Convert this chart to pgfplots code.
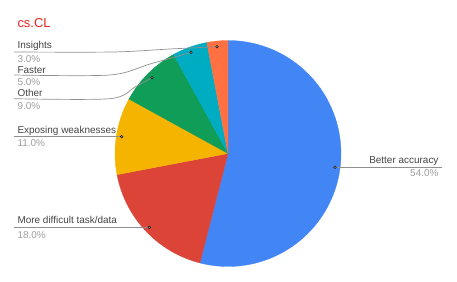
\documentclass[border=0pt]{standalone}
\usepackage{pgfplots}
\pgfplotsset{compat=1.18}
\usepackage{fontspec}
\setmainfont{Liberation Sans}
\definecolor{cBlue}{HTML}{4285F4}
\definecolor{cRed}{HTML}{DB4437}
\definecolor{cYellow}{HTML}{F4B400}
\definecolor{cGreen}{HTML}{0F9D58}
\definecolor{cTeal}{HTML}{00ACC1}
\definecolor{cOrange}{HTML}{FF7043}
\definecolor{cTitle}{HTML}{E8231E}
\definecolor{cName}{HTML}{444444}
\definecolor{cPct}{HTML}{9E9E9E}
\definecolor{cLine}{HTML}{909090}
\begin{document}
\begin{tikzpicture}
\begin{axis}[
  scale only axis, width=457bp, height=282bp,
  xmin=0, xmax=457, ymin=0, ymax=282,
  hide axis, clip=false,
  every node/.style={font=\fontsize{7}{9}\selectfont, inner sep=0pt},
]
\path[draw=none] (axis cs:0,0) rectangle (axis cs:457,282);
% wedges: domain = cumulative percentages (54, 18, 11, 9, 5, 3)
\addplot[draw=cBlue, line width=0.3pt, fill=cBlue, domain=0:54, samples=90, variable=\t]
  ({228+113*cos(90-3.6*\t)},{128.5+113*sin(90-3.6*\t)}) -- (axis cs:228,128.5) -- cycle;
\addplot[draw=cRed, line width=0.3pt, fill=cRed, domain=54:72, samples=40, variable=\t]
  ({228+113*cos(90-3.6*\t)},{128.5+113*sin(90-3.6*\t)}) -- (axis cs:228,128.5) -- cycle;
\addplot[draw=cYellow, line width=0.3pt, fill=cYellow, domain=72:83, samples=30, variable=\t]
  ({228+113*cos(90-3.6*\t)},{128.5+113*sin(90-3.6*\t)}) -- (axis cs:228,128.5) -- cycle;
\addplot[draw=cGreen, line width=0.3pt, fill=cGreen, domain=83:92, samples=30, variable=\t]
  ({228+113*cos(90-3.6*\t)},{128.5+113*sin(90-3.6*\t)}) -- (axis cs:228,128.5) -- cycle;
\addplot[draw=cTeal, line width=0.3pt, fill=cTeal, domain=92:97, samples=20, variable=\t]
  ({228+113*cos(90-3.6*\t)},{128.5+113*sin(90-3.6*\t)}) -- (axis cs:228,128.5) -- cycle;
\addplot[draw=cOrange, line width=0.3pt, fill=cOrange, domain=97:100, samples=20, variable=\t]
  ({228+113*cos(90-3.6*\t)},{128.5+113*sin(90-3.6*\t)}) -- (axis cs:228,128.5) -- cycle;

% leader lines
\addplot[cLine, line width=0.7pt, smooth] coordinates {(14,230) (113,230) (170,233) (217,235.3)};
\addplot[cLine, line width=0.7pt, smooth] coordinates {(14,207) (110,207) (150,218) (175,225) (191,229.7)};
\addplot[cLine, line width=0.7pt, smooth] coordinates {(14,183.3) (110,183.3) (135,195) (152,204.3)};
\addplot[cLine, line width=0.7pt] coordinates {(14,145.3) (121.7,145.3)};
\addplot[cLine, line width=0.7pt] coordinates {(14,54.7) (149.3,54.7)};
\addplot[cLine, line width=0.7pt] coordinates {(335,114.7) (442,114.7)};
\addplot[only marks, mark=*, mark size=1.4pt, mark options={draw=none, fill=cLine}] coordinates {
  (217,235.3) (191,229.7) (152,204.3) (121.7,145.3) (149.3,54.7) (335,114.7)};

% labels
\node[anchor=west, text=cTitle, font=\fontsize{13}{15}\selectfont] at (axis cs:14,258.7) {cs.CL};
\node[anchor=west, text=cName] at (axis cs:14,236.3) {Insights};
\node[anchor=west, text=cPct] at (axis cs:14,223) {3.0\%};
\node[anchor=west, text=cName] at (axis cs:14,212) {Faster};
\node[anchor=west, text=cPct] at (axis cs:14,200) {5.0\%};
\node[anchor=west, text=cName] at (axis cs:14,189) {Other};
\node[anchor=west, text=cPct] at (axis cs:14,176) {9.0\%};
\node[anchor=west, text=cName] at (axis cs:14,151) {Exposing weaknesses};
\node[anchor=west, text=cPct] at (axis cs:14,138.7) {11.0\%};
\node[anchor=west, text=cName] at (axis cs:14,62) {More difficult task/data};
\node[anchor=west, text=cPct] at (axis cs:14,47) {18.0\%};
\node[anchor=east, text=cName] at (axis cs:442,121) {Better accuracy};
\node[anchor=east, text=cPct] at (axis cs:442,109) {54.0\%};
\end{axis}
\end{tikzpicture}
\end{document}
